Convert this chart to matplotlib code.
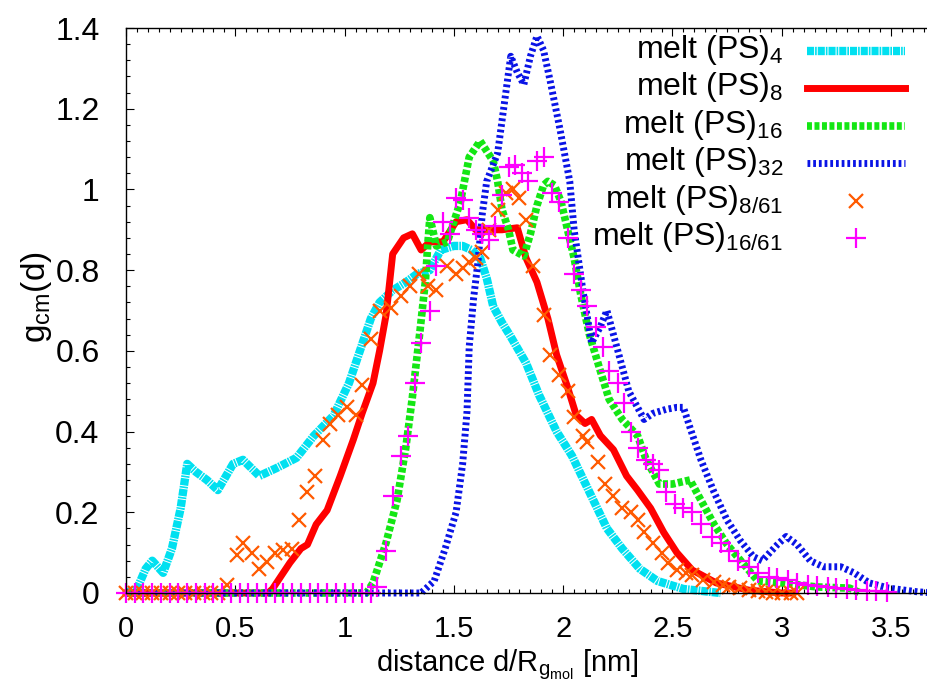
import numpy as np
import matplotlib
matplotlib.use("Agg")
import matplotlib.pyplot as plt
from matplotlib.lines import Line2D
from matplotlib.ticker import MultipleLocator, FormatStrFormatter

plt.rcParams['font.family'] = ['Liberation Sans', 'DejaVu Sans']
plt.rcParams['mathtext.fontset'] = 'custom'
plt.rcParams['mathtext.rm'] = 'Liberation Sans'
plt.rcParams['mathtext.it'] = 'Liberation Sans:italic'

# melt (PS)4
x4 = [0.0, 0.05, 0.09, 0.12, 0.17, 0.21, 0.25, 0.28, 0.32, 0.37,
      0.42, 0.49, 0.535, 0.61, 0.69, 0.78, 0.86, 0.95, 1.02, 1.07,
      1.12, 1.16, 1.22, 1.28, 1.33, 1.39, 1.44, 1.50, 1.54, 1.58,
      1.62, 1.65, 1.68, 1.72, 1.76, 1.83, 1.89, 1.97, 2.04, 2.12,
      2.20, 2.27, 2.35, 2.43, 2.55, 2.72]
g4 = [0.0, 0.01, 0.06, 0.08, 0.05, 0.11, 0.21, 0.32, 0.30, 0.28,
      0.255, 0.32, 0.33, 0.29, 0.31, 0.335, 0.39, 0.44, 0.52, 0.60,
      0.68, 0.72, 0.75, 0.77, 0.79, 0.80, 0.85, 0.86, 0.86, 0.85,
      0.83, 0.78, 0.71, 0.67, 0.635, 0.57, 0.49, 0.40, 0.34, 0.25,
      0.16, 0.11, 0.06, 0.03, 0.01, 0.0]

# melt (PS)8
x8 = [0.0, 0.65, 0.67, 0.75, 0.80, 0.83, 0.87, 0.92, 0.98, 1.04,
      1.08, 1.13, 1.16, 1.19, 1.22, 1.27, 1.31, 1.35, 1.39, 1.45,
      1.51, 1.56, 1.60, 1.67, 1.72, 1.79, 1.83, 1.88, 1.93, 1.97,
      2.02, 2.06, 2.10, 2.13, 2.17, 2.23, 2.29, 2.34, 2.40, 2.46,
      2.52, 2.59, 2.70, 2.85, 3.0, 3.05]
g8 = [0.0, 0.0, 0.01, 0.075, 0.11, 0.12, 0.17, 0.205, 0.29, 0.38,
      0.445, 0.52, 0.60, 0.69, 0.84, 0.88, 0.89, 0.85, 0.87, 0.87,
      0.92, 0.925, 0.90, 0.90, 0.90, 0.905, 0.83, 0.77, 0.68, 0.59,
      0.51, 0.44, 0.42, 0.43, 0.39, 0.355, 0.29, 0.255, 0.21, 0.15,
      0.10, 0.057, 0.025, 0.007, 0.0, 0.0]

# melt (PS)16
x16 = [0.0, 1.10, 1.13, 1.19, 1.24, 1.28, 1.31, 1.345, 1.37, 1.38,
       1.39, 1.42, 1.47, 1.50, 1.53, 1.57, 1.62, 1.68, 1.70, 1.72,
       1.75, 1.77, 1.82, 1.85, 1.88, 1.91, 1.93, 1.96, 1.99, 2.02,
       2.05, 2.08, 2.12, 2.17, 2.21, 2.27, 2.34, 2.38, 2.44, 2.50,
       2.58, 2.63, 2.69, 2.75, 2.82, 2.89, 3.0, 3.16, 3.31, 3.36]
g16 = [0.0, 0.0, 0.025, 0.125, 0.23, 0.36, 0.485, 0.65, 0.775, 0.86,
       0.93, 0.86, 0.87, 0.92, 0.97, 1.08, 1.12, 1.07, 1.02, 0.95,
       0.90, 0.85, 0.835, 0.89, 0.96, 1.01, 1.02, 1.01, 0.97, 0.90,
       0.83, 0.74, 0.64, 0.55, 0.48, 0.43, 0.39, 0.33, 0.27, 0.27,
       0.28, 0.23, 0.17, 0.12, 0.075, 0.03, 0.025, 0.015, 0.012, 0.0]

# melt (PS)32
x32 = [0.0, 1.35, 1.41, 1.46, 1.51, 1.54, 1.56, 1.57, 1.59, 1.61,
       1.63, 1.65, 1.70, 1.73, 1.76, 1.79, 1.82, 1.85, 1.88, 1.91,
       1.94, 1.985, 2.03, 2.05, 2.09, 2.13, 2.17, 2.20, 2.23, 2.27,
       2.30, 2.34, 2.37, 2.41, 2.47, 2.52, 2.55, 2.58, 2.63, 2.69,
       2.75, 2.81, 2.87, 2.91, 2.98, 3.02, 3.07, 3.13, 3.19, 3.27,
       3.33, 3.40, 3.49, 3.62, 3.70]
g32 = [0.0, 0.0, 0.03, 0.11, 0.20, 0.32, 0.45, 0.61, 0.73, 0.82,
       0.94, 1.02, 1.09, 1.21, 1.33, 1.29, 1.26, 1.33, 1.38, 1.345,
       1.27, 1.15, 1.02, 0.90, 0.75, 0.62, 0.66, 0.70, 0.64, 0.56,
       0.50, 0.46, 0.43, 0.445, 0.455, 0.46, 0.46, 0.41, 0.33, 0.25,
       0.18, 0.13, 0.09, 0.08, 0.12, 0.14, 0.12, 0.08, 0.065, 0.065,
       0.05, 0.025, 0.012, 0.003, 0.0]

# melt (PS)8/61
x8_61 = [0.0, 0.04, 0.08, 0.12, 0.16, 0.2, 0.24, 0.27, 0.31, 0.35,
         0.39, 0.42,
         0.46, 0.51, 0.535, 0.575, 0.61, 0.645, 0.68, 0.72, 0.76, 0.79,
         0.83, 0.865, 0.90, 0.935, 0.97, 1.01, 1.05, 1.08, 1.12, 1.16,
         1.21, 1.26, 1.30, 1.34, 1.38, 1.42, 1.47, 1.51, 1.54, 1.57,
         1.60, 1.63, 1.66, 1.70, 1.74, 1.77, 1.80, 1.83, 1.86, 1.91,
         1.94, 1.98, 2.02, 2.05, 2.09, 2.11, 2.16, 2.19, 2.23, 2.27,
         2.31, 2.34, 2.37, 2.41, 2.45, 2.48, 2.52, 2.56, 2.59, 2.64,
         2.69, 2.73, 2.76, 2.81, 2.85, 2.89, 2.93, 2.96, 3.0, 3.04,
         3.07]
g8_61 = [0, 0, 0, 0, 0, 0, 0, 0, 0, 0,
         0, 0,
         0.02, 0.095, 0.125, 0.10, 0.06, 0.078, 0.10, 0.107, 0.11, 0.18,
         0.25, 0.29, 0.38, 0.42, 0.44, 0.46, 0.44, 0.515, 0.63, 0.70,
         0.705, 0.735, 0.76, 0.79, 0.76, 0.75, 0.81, 0.79, 0.805, 0.82,
         0.83, 0.845, 0.90, 0.95, 0.99, 1.0, 0.98, 0.925, 0.81, 0.69,
         0.59, 0.54, 0.50, 0.435, 0.39, 0.375, 0.325, 0.27, 0.24, 0.21,
         0.20, 0.18, 0.15, 0.125, 0.10, 0.075, 0.057, 0.05, 0.045, 0.032,
         0.027, 0.02, 0.015, 0.012, 0.008, 0.005, 0.003, 0, 0, 0,
         0]

# melt (PS)16/61
x16_61 = [0.0, 0.04, 0.08, 0.12, 0.16, 0.2, 0.24, 0.28, 0.32, 0.36,
          0.4, 0.44, 0.48, 0.52, 0.56, 0.6, 0.64, 0.68, 0.72, 0.76,
          0.8, 0.84, 0.88, 0.92, 0.96, 1.0, 1.04, 1.08, 1.12,
          1.15, 1.19, 1.22, 1.26, 1.29, 1.32, 1.35, 1.39, 1.42, 1.45,
          1.48, 1.51, 1.54, 1.57, 1.60, 1.63, 1.66, 1.69, 1.72, 1.75,
          1.78, 1.81, 1.84, 1.88, 1.91, 1.95, 1.98, 2.02, 2.05, 2.08,
          2.11, 2.15, 2.18, 2.21, 2.25, 2.28, 2.31, 2.34, 2.38, 2.41,
          2.44, 2.47, 2.51, 2.55, 2.59, 2.63, 2.68, 2.72, 2.76, 2.80,
          2.85, 2.89, 2.94, 2.98, 3.03, 3.07, 3.12, 3.16, 3.21, 3.25,
          3.30, 3.34, 3.39, 3.43, 3.48]
g16_61 = [0, 0, 0, 0, 0, 0, 0, 0, 0, 0,
          0, 0, 0, 0, 0, 0, 0, 0, 0, 0,
          0, 0, 0, 0, 0, 0, 0, 0, 0,
          0.015, 0.105, 0.24, 0.34, 0.39, 0.52, 0.62, 0.70, 0.81, 0.92,
          0.89, 0.98, 0.975, 0.93, 0.90, 0.89, 0.875, 0.91, 0.985, 1.055,
          1.06, 1.04, 1.02, 1.07, 1.08, 0.99, 0.97, 0.88, 0.79, 0.75,
          0.71, 0.66, 0.61, 0.55, 0.52, 0.47, 0.40, 0.36, 0.33, 0.32,
          0.305, 0.25, 0.22, 0.21, 0.20, 0.17, 0.14, 0.125, 0.105, 0.08,
          0.065, 0.05, 0.04, 0.037, 0.032, 0.025, 0.02, 0.017, 0.015, 0.012,
          0.01, 0.008, 0.006, 0.004, 0.003]

labels = [r'melt (PS)$_{4}$', r'melt (PS)$_{8}$', r'melt (PS)$_{16}$',
          r'melt (PS)$_{32}$', r'melt (PS)$_{8/61}$', r'melt (PS)$_{16/61}$']

W, H = 928, 684
fig = plt.figure(figsize=(W / 100, H / 100), dpi=100)
ax = fig.add_axes([126 / W, 91 / H, 802 / W, 565 / H])

line_styles = [
    dict(color='#00e0f0', lw=6.0, dashes=(0.85, 0.12, 0.2, 0.12)),
    dict(color='#ff0000', lw=5.0),
    dict(color='#14e614', lw=5.5, dashes=(0.65, 0.33)),
    dict(color='#0a14e6', lw=5.0, dashes=(0.4, 0.42)),
]
mark_styles = [
    dict(color='#ff5a00', marker='x', ms=10, mew=1.6, ls='none'),
    dict(color='#ff00ff', marker='+', ms=15, mew=1.6, ls='none'),
]

for (xs, ys), st in zip([(x4, g4), (x8, g8), (x16, g16), (x32, g32)], line_styles):
    ax.plot(xs, ys, clip_on=False, **st)
for (xs, ys), st in zip([(x8_61, g8_61), (x16_61, g16_61)], mark_styles):
    ax.plot(xs, ys, clip_on=False, **st)

ax.set_xlim(0, 802 / 218.6)
ax.set_ylim(0, 1.4)
ax.spines['right'].set_visible(False)
for s in ('left', 'bottom', 'top'):
    ax.spines[s].set_linewidth(1.0)

ax.xaxis.set_major_locator(MultipleLocator(0.5))
ax.xaxis.set_minor_locator(MultipleLocator(0.05))
ax.yaxis.set_major_locator(MultipleLocator(0.2))
ax.yaxis.set_minor_locator(MultipleLocator(0.04))
ax.xaxis.set_major_formatter(FormatStrFormatter('%g'))
ax.yaxis.set_major_formatter(FormatStrFormatter('%g'))
ax.tick_params(which='both', direction='in', top=True, right=False, width=0.8)
ax.tick_params(which='major', length=6)
ax.tick_params(which='minor', length=3)
ax.tick_params(axis='x', labelsize=21, pad=16)
ax.tick_params(axis='y', labelsize=23, pad=19)

fig.text(376 / W, 1 - 671 / H, r'distance d/R$_{\mathrm{g}_{\mathrm{mol}}}$ [nm]',
         ha='left', va='baseline', fontsize=21)
fig.text(36 / W, 1 - 297 / H, r'g$_{\mathrm{cm}}$(d)', rotation=90,
         ha='center', va='center', fontsize=24)

# key: right-aligned text with the sample to its right
styles = line_styles + mark_styles
for i, (lab, st) in enumerate(zip(labels, styles)):
    yp = 51 + 37.4 * i
    fig.text(783 / W, 1 - (yp + 7) / H, lab, ha='right', va='baseline',
             fontsize=23)
    if 'marker' in st:
        fig.add_artist(Line2D([856 / W], [1 - yp / H], transform=fig.transFigure, **st))
    else:
        fig.add_artist(Line2D([807 / W, 905 / W], [1 - yp / H, 1 - yp / H],
                              transform=fig.transFigure, **st))

fig.savefig('out.png', dpi=100)
